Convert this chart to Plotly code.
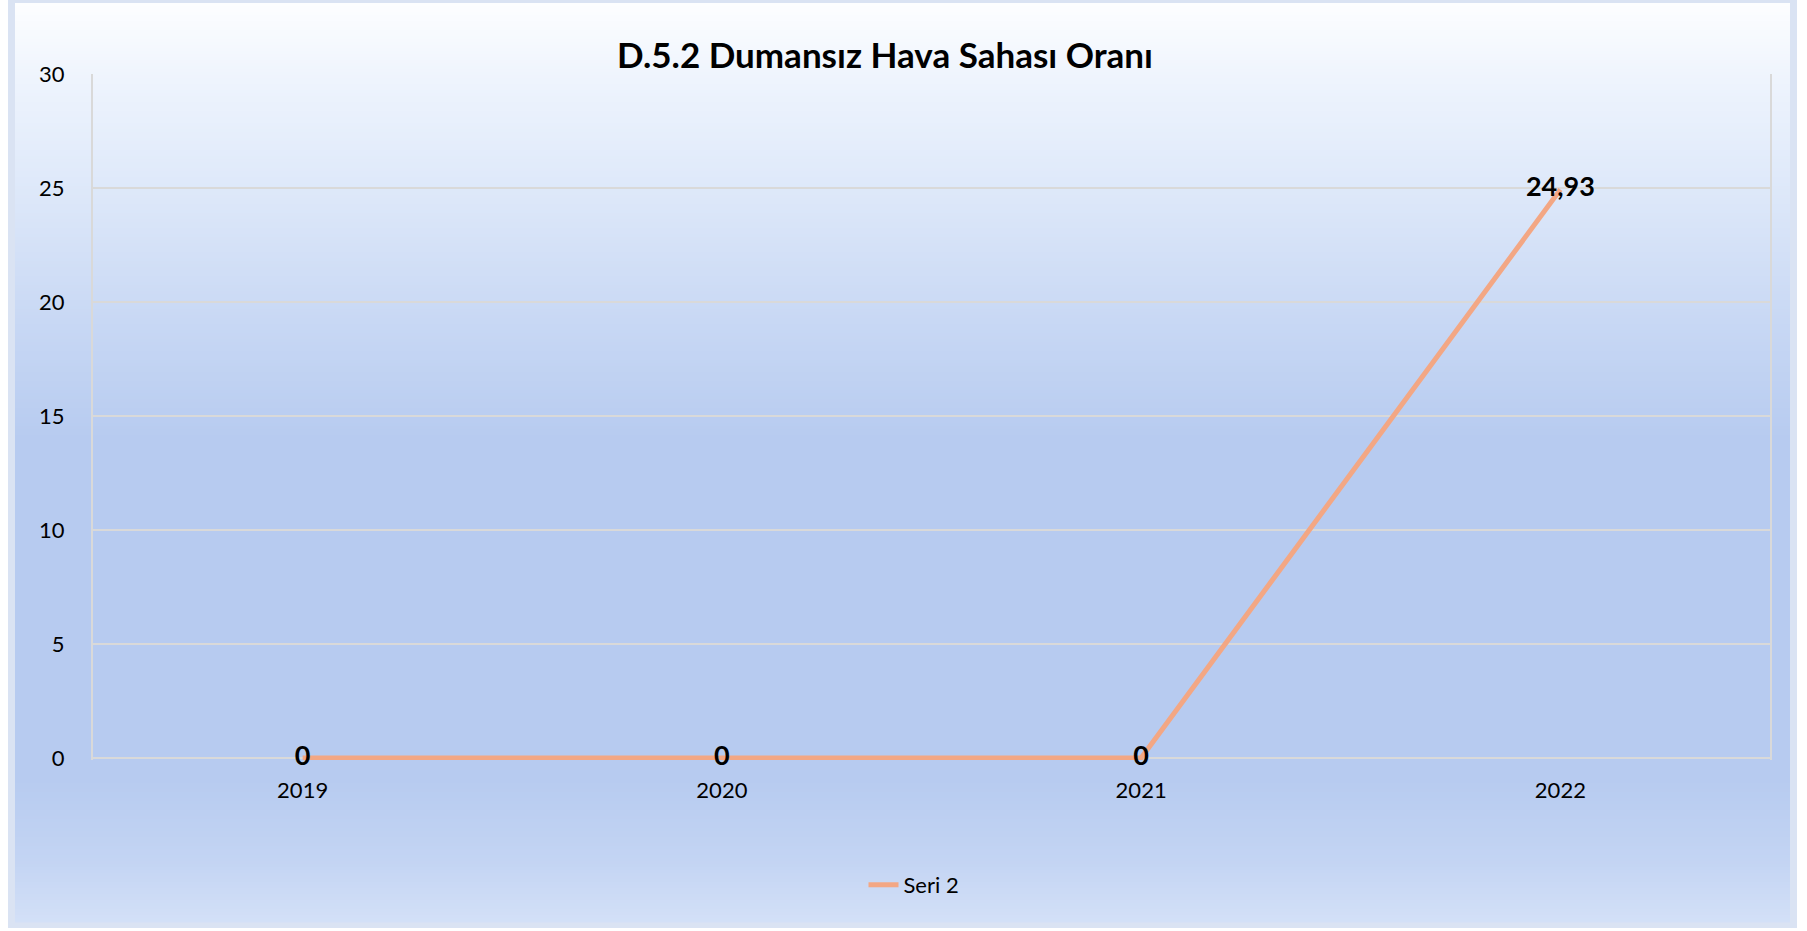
import plotly.graph_objects as go

# Data
years = ["2019", "2020", "2021", "2022"]
values = [0, 0, 0, 24.93]
series_name = "Seri 2"
chart_title = "D.5.2 Dumansız Hava Sahası Oranı"

# Canvas and plot-area geometry (pixels)
W, H = 1807, 931
ML, MR, MT, MB = 93, 37, 74, 171
PW, PH = W - ML - MR, H - MT - MB

FONT = "Lato, 'Open Sans', sans-serif"
LINE_COLOR = "#F3A784"
GRID_COLOR = "#D9D9D9"

# small pad below zero so the flat line at 0 is not cut by the plot edge
Y_MIN, Y_MAX = -0.09, 30


def xp(px):
    return (px - ML) / PW


def yp(py):
    return (H - MB - py) / PH


def hex_rgb(h):
    h = h.lstrip("#")
    return tuple(int(h[i:i + 2], 16) for i in (0, 2, 4))


# Vertical colour stops for the panel background (pixel y, colour)
grad_stops = [
    (3, "#FDFEFF"),
    (80, "#EEF4FD"),
    (200, "#DCE7F9"),
    (320, "#C8D8F4"),
    (440, "#B7CBF0"),
    (780, "#B7CBF0"),
    (860, "#C3D4F3"),
    (922, "#D3E0F7"),
]


def grad_color(py):
    for (y0, c0), (y1, c1) in zip(grad_stops[:-1], grad_stops[1:]):
        if y0 <= py <= y1:
            t = (py - y0) / (y1 - y0) if y1 > y0 else 0
            a, b = hex_rgb(c0), hex_rgb(c1)
            r = [round(a[i] + (b[i] - a[i]) * t) for i in range(3)]
            return f"rgb({r[0]},{r[1]},{r[2]})"
    return grad_stops[-1][1]


shapes = []
# outer frame
shapes.append(dict(type="rect", xref="paper", yref="paper", layer="below",
                   x0=xp(8), x1=xp(1797), y0=yp(928), y1=yp(0),
                   fillcolor="#DAE3F3", line=dict(width=0)))
# gradient panel built from thin horizontal strips
step = 3
py = 3
while py < 922:
    py2 = min(py + step, 922)
    shapes.append(dict(type="rect", xref="paper", yref="paper", layer="below",
                       x0=xp(15), x1=xp(1790), y0=yp(py2 + 0.5), y1=yp(py),
                       fillcolor=grad_color((py + py2) / 2), line=dict(width=0)))
    py = py2

labels = [f"{v:g}".replace(".", ",") for v in values]

fig = go.Figure()
fig.add_trace(go.Scatter(
    x=years, y=values, name=series_name,
    mode="lines+text",
    line=dict(color=LINE_COLOR, width=5),
    text=labels, textposition="middle center",
    textfont=dict(family=FONT, size=27, color="#000000", weight="bold"),
    cliponaxis=False,
))

fig.update_layout(
    width=W, height=H,
    margin=dict(l=ML, r=MR, t=MT, b=MB, autoexpand=False),
    paper_bgcolor="#FFFFFF",
    plot_bgcolor="rgba(0,0,0,0)",
    shapes=shapes,
    font=dict(family=FONT, size=22, color="#000000"),
    title=dict(text=f"<b>{chart_title}</b>", x=885 / W, xref="container", xanchor="center",
               y=1 - 56 / H, yref="container", yanchor="middle",
               font=dict(family=FONT, size=35, color="#000000")),
    showlegend=True,
    legend=dict(orientation="h", x=914 / W, xanchor="center", xref="container",
                y=1 - 885 / H, yanchor="middle", yref="container",
                bgcolor="rgba(0,0,0,0)", font=dict(size=22)),
    xaxis=dict(type="category", range=[-0.5, 3.5], showgrid=False,
               showline=False, zeroline=False,
               ticks="", ticklabelstandoff=15, tickfont=dict(size=22),
               fixedrange=True),
    yaxis=dict(range=[Y_MIN, Y_MAX], dtick=5, tick0=0, showgrid=True,
               gridcolor=GRID_COLOR, gridwidth=2,
               showline=True, linecolor=GRID_COLOR, linewidth=2, mirror=True,
               ticks="", ticklabelstandoff=22, tickfont=dict(size=22),
               zeroline=False, fixedrange=True),
)

fig.write_html("out.html")
